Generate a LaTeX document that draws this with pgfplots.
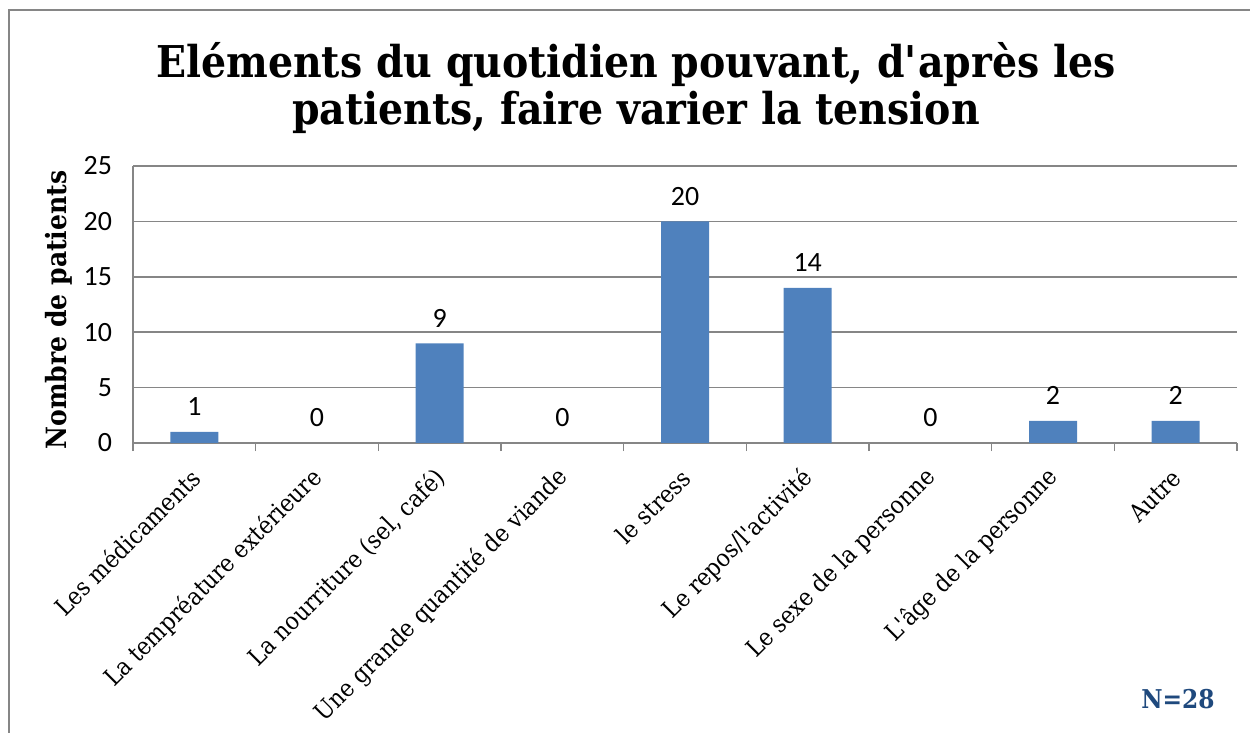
\documentclass[border=0pt]{standalone}
\usepackage{pgfplots}
\pgfplotsset{compat=1.18}
\usepackage{fontspec}
\setmainfont{DejaVu Serif}[FakeStretch=0.9]
\newfontfamily\calibri{Carlito}
\definecolor{barblue}{RGB}{79,129,189}
\definecolor{axgray}{RGB}{134,134,134}
\definecolor{nblue}{RGB}{31,73,125}
\begin{document}
\begin{tikzpicture}
\useasboundingbox (0,0) rectangle (625bp,366.5bp);
\draw[axgray, line width=0.9bp] (4.5bp,0) -- (4.5bp,361.5bp) -- (625bp,361.5bp);
\node[anchor=base, font=\fontsize{22}{26}\selectfont\bfseries] at (318bp,327.5bp) {Eléments du quotidien pouvant, d\textquotesingle après les};
\node[anchor=base, font=\fontsize{22}{26}\selectfont\bfseries] at (318bp,304bp) {patients, faire varier la tension};
\node[anchor=base, font=\bfseries\fontsize{13}{15}\selectfont, text=nblue] at (589bp,12.5bp) {N=28};
\begin{axis}[
  at={(66.5bp,145bp)}, anchor=south west,
  scale only axis, width=552bp, height=138.5bp,
  xmin=0.5, xmax=9.5, ymin=0, ymax=25,
  ybar, bar width=24bp,
  ytick={0,5,10,15,20,25},
  ymajorgrids, grid style={axgray, line width=0.75bp},
  axis x line*=bottom, axis y line*=left,
  axis line style={axgray, line width=0.75bp, -},
  y tick style={draw=none},
  xtick={0.5,1.5,...,9.5}, xticklabels={},
  tick align=outside, xtick pos=bottom,
  x tick style={axgray, line width=0.75bp},
  major tick length=4bp,
  extra x ticks={1,2,3,4,5,6,7,8,9},
  extra x tick labels={Les médicaments, La tempréature extérieure, {La nourriture (sel, café)}, Une grande quantité de viande, le stress, Le repos/l\textquotesingle activité, Le sexe de la personne, L\textquotesingle âge de la personne, Autre},
  extra x tick style={major tick length=0pt, grid=none,
     tick label style={rotate=45, anchor=east, font=\fontsize{12.2}{14}\selectfont, inner sep=1bp, xshift=-9.3bp, yshift=-11.3bp}},
  /pgf/number format/assume math mode=true,
  yticklabel style={font=\calibri\fontsize{14}{16}\selectfont, xshift=-3bp},
  ylabel={Nombre de patients},
  ylabel style={at={(axis description cs:-0.067,0.48)}, anchor=center, font=\fontsize{14}{16}\selectfont\bfseries},
  nodes near coords,
  every node near coord/.append style={font=\calibri\fontsize{14}{16}\selectfont, yshift=4.5bp, text=black},
]
\addplot[fill=barblue, draw=none] coordinates {(1,1) (2,0) (3,9) (4,0) (5,20) (6,14) (7,0) (8,2) (9,2)};
\end{axis}
\end{tikzpicture}
\end{document}
